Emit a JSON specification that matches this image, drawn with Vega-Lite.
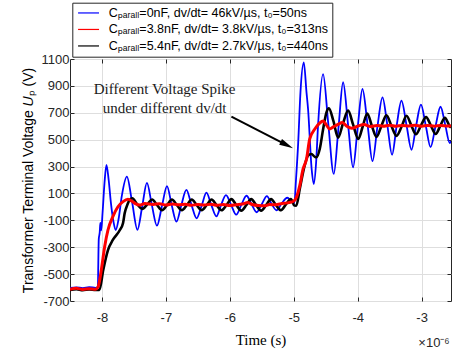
{
  "$schema": "https://vega.github.io/schema/vega-lite/v6.json",
  "width": 381,
  "height": 242,
  "autosize": "none",
  "padding": {"left": 70, "top": 59, "right": 3, "bottom": 53},
  "background": "white",
  "config": {
    "view": {"stroke": "#262626", "strokeWidth": 1},
    "axis": {"domain": false}
  },
  "datasets": {
    "lines": [
      {"series": "A", "t": -8.5, "v": -603}, {"series": "A", "t": -8.4, "v": -598}, {"series": "A", "t": -8.3, "v": -604}, {"series": "A", "t": -8.2, "v": -597}, {"series": "A", "t": -8.1, "v": -602}, {"series": "A", "t": -8.065, "v": -598}, {"series": "A", "t": -8.05, "v": -240}, {"series": "A", "t": -8.035, "v": -190}, {"series": "A", "t": -8.025, "v": -120}, {"series": "A", "t": -8.012, "v": -175}, {"series": "A", "t": -7.99, "v": -40}, {"series": "A", "t": -7.96, "v": 180}, {"series": "A", "t": -7.93, "v": 312}, {"series": "A", "t": -7.895, "v": 200}, {"series": "A", "t": -7.86, "v": 30}, {"series": "A", "t": -7.82, "v": -110}, {"series": "A", "t": -7.785, "v": -172}, {"series": "A", "t": -7.74, "v": -90}, {"series": "A", "t": -7.69, "v": 80}, {"series": "A", "t": -7.61, "v": 225}, {"series": "A", "t": -7.53, "v": 40}, {"series": "A", "t": -7.445, "v": -170}, {"series": "A", "t": -7.37, "v": 5}, {"series": "A", "t": -7.297, "v": 178}, {"series": "A", "t": -7.22, "v": 15}, {"series": "A", "t": -7.14, "v": -140}, {"series": "A", "t": -7.06, "v": 10}, {"series": "A", "t": -6.983, "v": 155}, {"series": "A", "t": -6.91, "v": 15}, {"series": "A", "t": -6.835, "v": -110}, {"series": "A", "t": -6.76, "v": 10}, {"series": "A", "t": -6.68, "v": 126}, {"series": "A", "t": -6.6, "v": 15}, {"series": "A", "t": -6.52, "v": -85}, {"series": "A", "t": -6.44, "v": 10}, {"series": "A", "t": -6.366, "v": 106}, {"series": "A", "t": -6.29, "v": 15}, {"series": "A", "t": -6.21, "v": -70}, {"series": "A", "t": -6.14, "v": 10}, {"series": "A", "t": -6.06, "v": 88}, {"series": "A", "t": -5.98, "v": 15}, {"series": "A", "t": -5.9, "v": -58}, {"series": "A", "t": -5.82, "v": 15}, {"series": "A", "t": -5.74, "v": 83}, {"series": "A", "t": -5.66, "v": 20}, {"series": "A", "t": -5.58, "v": -40}, {"series": "A", "t": -5.5, "v": 20}, {"series": "A", "t": -5.42, "v": 80}, {"series": "A", "t": -5.35, "v": 25}, {"series": "A", "t": -5.27, "v": -25}, {"series": "A", "t": -5.19, "v": 25}, {"series": "A", "t": -5.1, "v": 68}, {"series": "A", "t": -5.04, "v": 45}, {"series": "A", "t": -4.99, "v": 30}, {"series": "A", "t": -4.965, "v": 200}, {"series": "A", "t": -4.93, "v": 480}, {"series": "A", "t": -4.895, "v": 852}, {"series": "A", "t": -4.843, "v": 1075}, {"series": "A", "t": -4.8, "v": 850}, {"series": "A", "t": -4.776, "v": 728}, {"series": "A", "t": -4.72, "v": 282}, {"series": "A", "t": -4.687, "v": 170}, {"series": "A", "t": -4.65, "v": 330}, {"series": "A", "t": -4.62, "v": 604}, {"series": "A", "t": -4.541, "v": 988}, {"series": "A", "t": -4.46, "v": 620}, {"series": "A", "t": -4.374, "v": 245}, {"series": "A", "t": -4.3, "v": 590}, {"series": "A", "t": -4.228, "v": 927}, {"series": "A", "t": -4.15, "v": 610}, {"series": "A", "t": -4.072, "v": 294}, {"series": "A", "t": -4.0, "v": 590}, {"series": "A", "t": -3.925, "v": 877}, {"series": "A", "t": -3.845, "v": 610}, {"series": "A", "t": -3.768, "v": 340}, {"series": "A", "t": -3.69, "v": 600}, {"series": "A", "t": -3.612, "v": 815}, {"series": "A", "t": -3.535, "v": 605}, {"series": "A", "t": -3.462, "v": 388}, {"series": "A", "t": -3.39, "v": 605}, {"series": "A", "t": -3.315, "v": 790}, {"series": "A", "t": -3.235, "v": 605}, {"series": "A", "t": -3.158, "v": 425}, {"series": "A", "t": -3.085, "v": 605}, {"series": "A", "t": -3.01, "v": 760}, {"series": "A", "t": -2.935, "v": 605}, {"series": "A", "t": -2.86, "v": 445}, {"series": "A", "t": -2.78, "v": 605}, {"series": "A", "t": -2.704, "v": 745}, {"series": "A", "t": -2.63, "v": 610}, {"series": "A", "t": -2.56, "v": 475}, {"series": "A", "t": -2.54, "v": 490},

      {"series": "C", "t": -8.5, "v": -618}, {"series": "C", "t": -8.4, "v": -612}, {"series": "C", "t": -8.3, "v": -620}, {"series": "C", "t": -8.2, "v": -614}, {"series": "C", "t": -8.1, "v": -618}, {"series": "C", "t": -8.04, "v": -618}, {"series": "C", "t": -7.98, "v": -469}, {"series": "C", "t": -7.906, "v": -321}, {"series": "C", "t": -7.83, "v": -246}, {"series": "C", "t": -7.72, "v": -172}, {"series": "C", "t": -7.67, "v": -120}, {"series": "C", "t": -7.645, "v": -48}, {"series": "C", "t": -7.6, "v": 20}, {"series": "C", "t": -7.567, "v": 51}, {"series": "C", "t": -7.525, "v": 64}, {"series": "C", "t": -7.45, "v": 20}, {"series": "C", "t": -7.37, "v": -15}, {"series": "C", "t": -7.29, "v": 20}, {"series": "C", "t": -7.215, "v": 55}, {"series": "C", "t": -7.14, "v": 15}, {"series": "C", "t": -7.06, "v": -25}, {"series": "C", "t": -6.98, "v": 15}, {"series": "C", "t": -6.905, "v": 55}, {"series": "C", "t": -6.83, "v": 15}, {"series": "C", "t": -6.75, "v": -25}, {"series": "C", "t": -6.67, "v": 15}, {"series": "C", "t": -6.595, "v": 55}, {"series": "C", "t": -6.52, "v": 15}, {"series": "C", "t": -6.44, "v": -25}, {"series": "C", "t": -6.36, "v": 15}, {"series": "C", "t": -6.285, "v": 55}, {"series": "C", "t": -6.21, "v": 15}, {"series": "C", "t": -6.13, "v": -25}, {"series": "C", "t": -6.05, "v": 15}, {"series": "C", "t": -5.975, "v": 58}, {"series": "C", "t": -5.9, "v": 15}, {"series": "C", "t": -5.82, "v": -28}, {"series": "C", "t": -5.74, "v": 15}, {"series": "C", "t": -5.665, "v": 58}, {"series": "C", "t": -5.59, "v": 15}, {"series": "C", "t": -5.51, "v": -28}, {"series": "C", "t": -5.43, "v": 15}, {"series": "C", "t": -5.355, "v": 58}, {"series": "C", "t": -5.28, "v": 15}, {"series": "C", "t": -5.2, "v": -25}, {"series": "C", "t": -5.12, "v": 20}, {"series": "C", "t": -5.045, "v": 58}, {"series": "C", "t": -4.99, "v": 10}, {"series": "C", "t": -4.96, "v": 9}, {"series": "C", "t": -4.906, "v": 133}, {"series": "C", "t": -4.83, "v": 306}, {"series": "C", "t": -4.776, "v": 381}, {"series": "C", "t": -4.723, "v": 393}, {"series": "C", "t": -4.67, "v": 372}, {"series": "C", "t": -4.645, "v": 369}, {"series": "C", "t": -4.593, "v": 431}, {"series": "C", "t": -4.54, "v": 579}, {"series": "C", "t": -4.488, "v": 703}, {"series": "C", "t": -4.45, "v": 733}, {"series": "C", "t": -4.38, "v": 640}, {"series": "C", "t": -4.306, "v": 515}, {"series": "C", "t": -4.23, "v": 620}, {"series": "C", "t": -4.15, "v": 716}, {"series": "C", "t": -4.07, "v": 610}, {"series": "C", "t": -3.99, "v": 505}, {"series": "C", "t": -3.92, "v": 600}, {"series": "C", "t": -3.85, "v": 695}, {"series": "C", "t": -3.78, "v": 605}, {"series": "C", "t": -3.706, "v": 520}, {"series": "C", "t": -3.63, "v": 600}, {"series": "C", "t": -3.55, "v": 682}, {"series": "C", "t": -3.47, "v": 600}, {"series": "C", "t": -3.393, "v": 528}, {"series": "C", "t": -3.31, "v": 600}, {"series": "C", "t": -3.236, "v": 678}, {"series": "C", "t": -3.16, "v": 605}, {"series": "C", "t": -3.09, "v": 540}, {"series": "C", "t": -3.01, "v": 605}, {"series": "C", "t": -2.93, "v": 668}, {"series": "C", "t": -2.855, "v": 605}, {"series": "C", "t": -2.78, "v": 542}, {"series": "C", "t": -2.71, "v": 600}, {"series": "C", "t": -2.636, "v": 662}, {"series": "C", "t": -2.56, "v": 600}, {"series": "C", "t": -2.54, "v": 590},

      {"series": "B", "t": -8.5, "v": -612}, {"series": "B", "t": -8.4, "v": -606}, {"series": "B", "t": -8.3, "v": -614}, {"series": "B", "t": -8.2, "v": -608}, {"series": "B", "t": -8.1, "v": -612}, {"series": "B", "t": -8.06, "v": -594}, {"series": "B", "t": -8.01, "v": -469}, {"series": "B", "t": -7.958, "v": -296}, {"series": "B", "t": -7.906, "v": -172}, {"series": "B", "t": -7.83, "v": -73}, {"series": "B", "t": -7.75, "v": 1}, {"series": "B", "t": -7.67, "v": 39}, {"series": "B", "t": -7.593, "v": 56}, {"series": "B", "t": -7.53, "v": 42}, {"series": "B", "t": -7.47, "v": 22}, {"series": "B", "t": -7.41, "v": 14}, {"series": "B", "t": -7.33, "v": 25}, {"series": "B", "t": -7.2, "v": 18}, {"series": "B", "t": -7.1, "v": 24}, {"series": "B", "t": -7.0, "v": 14}, {"series": "B", "t": -6.9, "v": 22}, {"series": "B", "t": -6.8, "v": 15}, {"series": "B", "t": -6.7, "v": 20}, {"series": "B", "t": -6.6, "v": 12}, {"series": "B", "t": -6.5, "v": 18}, {"series": "B", "t": -6.4, "v": 14}, {"series": "B", "t": -6.3, "v": 20}, {"series": "B", "t": -6.2, "v": 12}, {"series": "B", "t": -6.1, "v": 18}, {"series": "B", "t": -6.0, "v": 10}, {"series": "B", "t": -5.9, "v": 16}, {"series": "B", "t": -5.8, "v": 22}, {"series": "B", "t": -5.72, "v": 32}, {"series": "B", "t": -5.65, "v": 18}, {"series": "B", "t": -5.55, "v": 10}, {"series": "B", "t": -5.45, "v": 8}, {"series": "B", "t": -5.38, "v": 18}, {"series": "B", "t": -5.3, "v": 15}, {"series": "B", "t": -5.2, "v": 24}, {"series": "B", "t": -5.1, "v": 30}, {"series": "B", "t": -5.04, "v": 36}, {"series": "B", "t": -5.01, "v": 40}, {"series": "B", "t": -4.958, "v": 71}, {"series": "B", "t": -4.906, "v": 158}, {"series": "B", "t": -4.854, "v": 282}, {"series": "B", "t": -4.8, "v": 356}, {"series": "B", "t": -4.75, "v": 505}, {"series": "B", "t": -4.67, "v": 579}, {"series": "B", "t": -4.593, "v": 624}, {"series": "B", "t": -4.54, "v": 638}, {"series": "B", "t": -4.49, "v": 610}, {"series": "B", "t": -4.44, "v": 580}, {"series": "B", "t": -4.38, "v": 595}, {"series": "B", "t": -4.3, "v": 615}, {"series": "B", "t": -4.24, "v": 628}, {"series": "B", "t": -4.17, "v": 600}, {"series": "B", "t": -4.09, "v": 585}, {"series": "B", "t": -4.0, "v": 600}, {"series": "B", "t": -3.9, "v": 612}, {"series": "B", "t": -3.8, "v": 598}, {"series": "B", "t": -3.7, "v": 606}, {"series": "B", "t": -3.6, "v": 600}, {"series": "B", "t": -3.5, "v": 608}, {"series": "B", "t": -3.4, "v": 600}, {"series": "B", "t": -3.3, "v": 606}, {"series": "B", "t": -3.2, "v": 602}, {"series": "B", "t": -3.1, "v": 608}, {"series": "B", "t": -3.0, "v": 600}, {"series": "B", "t": -2.9, "v": 606}, {"series": "B", "t": -2.8, "v": 600}, {"series": "B", "t": -2.7, "v": 606}, {"series": "B", "t": -2.6, "v": 602}, {"series": "B", "t": -2.54, "v": 604}
    ],
    "arrow": [{"t1": -5.975, "v1": 671, "t2": -5.108, "v2": 460}],
    "head": [{"t": -5.108, "v": 460}],
    "notes": [
      {"t": -7.02, "v": 877, "label": "Different Voltage Spike"},
      {"t": -7.02, "v": 736, "label": "under different dv/dt"}
    ],
    "expo": [{"t": -2.56, "v": -1010, "label": "×10⁻⁶"}]
  },
  "layer": [
    {
      "data": {"name": "lines"},
      "transform": [{"filter": "datum.series == 'A'"}],
      "mark": {"type": "line", "interpolate": "monotone", "clip": true, "strokeWidth": 1.8},
      "encoding": {
        "x": {
          "field": "t", "type": "quantitative",
          "scale": {"domain": [-8.5, -2.54], "nice": false, "zero": false},
          "axis": {
            "values": [-8, -7, -6, -5, -4, -3], "labelExpr": "'' + datum.value",
            "title": "Time (s)", "titleFont": "Liberation Serif", "titleFontSize": 15,
            "titleFontWeight": "normal", "titleColor": "#000000", "titlePadding": 8,
            "labelFont": "Liberation Sans", "labelFontSize": 13, "labelColor": "#262626", "labelPadding": 14,
            "tickSize": -4, "tickColor": "#262626",
            "grid": true, "gridColor": "#dedede"
          }
        },
        "y": {
          "field": "v", "type": "quantitative",
          "scale": {"domain": [-700, 1100], "nice": false, "zero": false},
          "axis": {
            "values": [-700, -500, -300, -100, 100, 300, 500, 700, 900, 1100], "labelExpr": "'' + datum.value",
            "title": "Transformer Terminal Voltage 𝑈ₚ (V)", "titleFont": "Liberation Sans", "titleFontSize": 14,
            "titleFontWeight": "normal", "titleColor": "#000000", "titlePadding": 6,
            "labelFont": "Liberation Sans", "labelFontSize": 13, "labelColor": "#262626", "labelPadding": 5,
            "tickSize": -4, "tickColor": "#262626",
            "grid": true, "gridColor": "#dedede"
          }
        },
        "color": {
          "field": "series", "type": "nominal",
          "scale": {"domain": ["A", "B", "C"], "range": ["#0000ff", "#ff0000", "#000000"]},
          "legend": {
            "orient": "none", "legendX": 2.3, "legendY": -56.3,
            "title": null, "symbolType": "M-2,0L2,0", "symbolSize": 110, "symbolStrokeWidth": 1.2, "symbolOffset": 6,
            "labelExpr": "datum.value == 'A' ? 'Cₚₐᵣₐₗₗ=0nF, dv/dt= 46kV/µs, t₀=50ns' : datum.value == 'B' ? 'Cₚₐᵣₐₗₗ=3.8nF, dv/dt= 3.8kV/µs, t₀=313ns\u00a0\u00a0' : 'Cₚₐᵣₐₗₗ=5.4nF, dv/dt= 2.7kV/µs, t₀=440ns\u00a0\u00a0'",
            "labelFont": "Liberation Sans, Noto Sans", "labelFontSize": 12.5, "labelColor": "#000000", "labelLimit": 400, "labelOffset": 14,
            "strokeColor": "#262626", "fillColor": "#ffffff", "padding": 4, "rowPadding": 3.5,
            "encode": {"symbols": {"update": {"strokeWidth": {"value": 1.2}}}}
          }
        }
      }
    },
    {
      "data": {"name": "lines"},
      "transform": [{"filter": "datum.series == 'C'"}],
      "mark": {"type": "line", "interpolate": "monotone", "clip": true, "strokeWidth": 2.6},
      "encoding": {
        "x": {"field": "t", "type": "quantitative", "axis": null},
        "y": {"field": "v", "type": "quantitative", "axis": null},
        "color": {"field": "series", "type": "nominal", "legend": null, "scale": {"domain": ["A", "B", "C"], "range": ["#0000ff", "#ff0000", "#000000"]}}
      }
    },
    {
      "data": {"name": "lines"},
      "transform": [{"filter": "datum.series == 'B'"}],
      "mark": {"type": "line", "interpolate": "monotone", "clip": true, "strokeWidth": 3},
      "encoding": {
        "x": {"field": "t", "type": "quantitative", "axis": null},
        "y": {"field": "v", "type": "quantitative", "axis": null},
        "color": {"field": "series", "type": "nominal", "legend": null, "scale": {"domain": ["A", "B", "C"], "range": ["#0000ff", "#ff0000", "#000000"]}}
      }
    },
    {
      "data": {"name": "arrow"},
      "mark": {"type": "rule", "color": "#000000", "strokeWidth": 2},
      "encoding": {
        "x": {"field": "t1", "type": "quantitative", "axis": null},
        "y": {"field": "v1", "type": "quantitative", "axis": null},
        "x2": {"field": "t2"},
        "y2": {"field": "v2"}
      }
    },
    {
      "data": {"name": "head"},
      "mark": {"type": "point", "shape": "M-1,-0.45L1,0L-1,0.45Z", "size": 196, "filled": true, "color": "#000000", "opacity": 1, "angle": 27},
      "encoding": {
        "x": {"field": "t", "type": "quantitative", "axis": null},
        "y": {"field": "v", "type": "quantitative", "axis": null}
      }
    },
    {
      "data": {"name": "notes"},
      "mark": {"type": "text", "font": "Liberation Serif", "fontSize": 15, "color": "#1a1a1a", "align": "center", "baseline": "middle"},
      "encoding": {
        "x": {"field": "t", "type": "quantitative", "axis": null},
        "y": {"field": "v", "type": "quantitative", "axis": null},
        "text": {"field": "label"}
      }
    },
    {
      "data": {"name": "expo"},
      "mark": {"type": "text", "font": "Liberation Sans", "fontSize": 13, "color": "#262626", "align": "right", "baseline": "middle"},
      "encoding": {
        "x": {"field": "t", "type": "quantitative",
          "axis": {"orient": "top", "labels": false, "title": null, "grid": false, "tickSize": -4, "tickColor": "#262626", "values": [-8, -7, -6, -5, -4, -3]}},
        "y": {"field": "v", "type": "quantitative",
          "axis": {"orient": "right", "labels": false, "title": null, "grid": false, "tickSize": -4, "tickColor": "#262626", "values": [-700, -500, -300, -100, 100, 300, 500, 700, 900, 1100]}},
        "text": {"field": "label"}
      }
    }
  ],
  "resolve": {"axis": {"x": "independent", "y": "independent"}}
}
